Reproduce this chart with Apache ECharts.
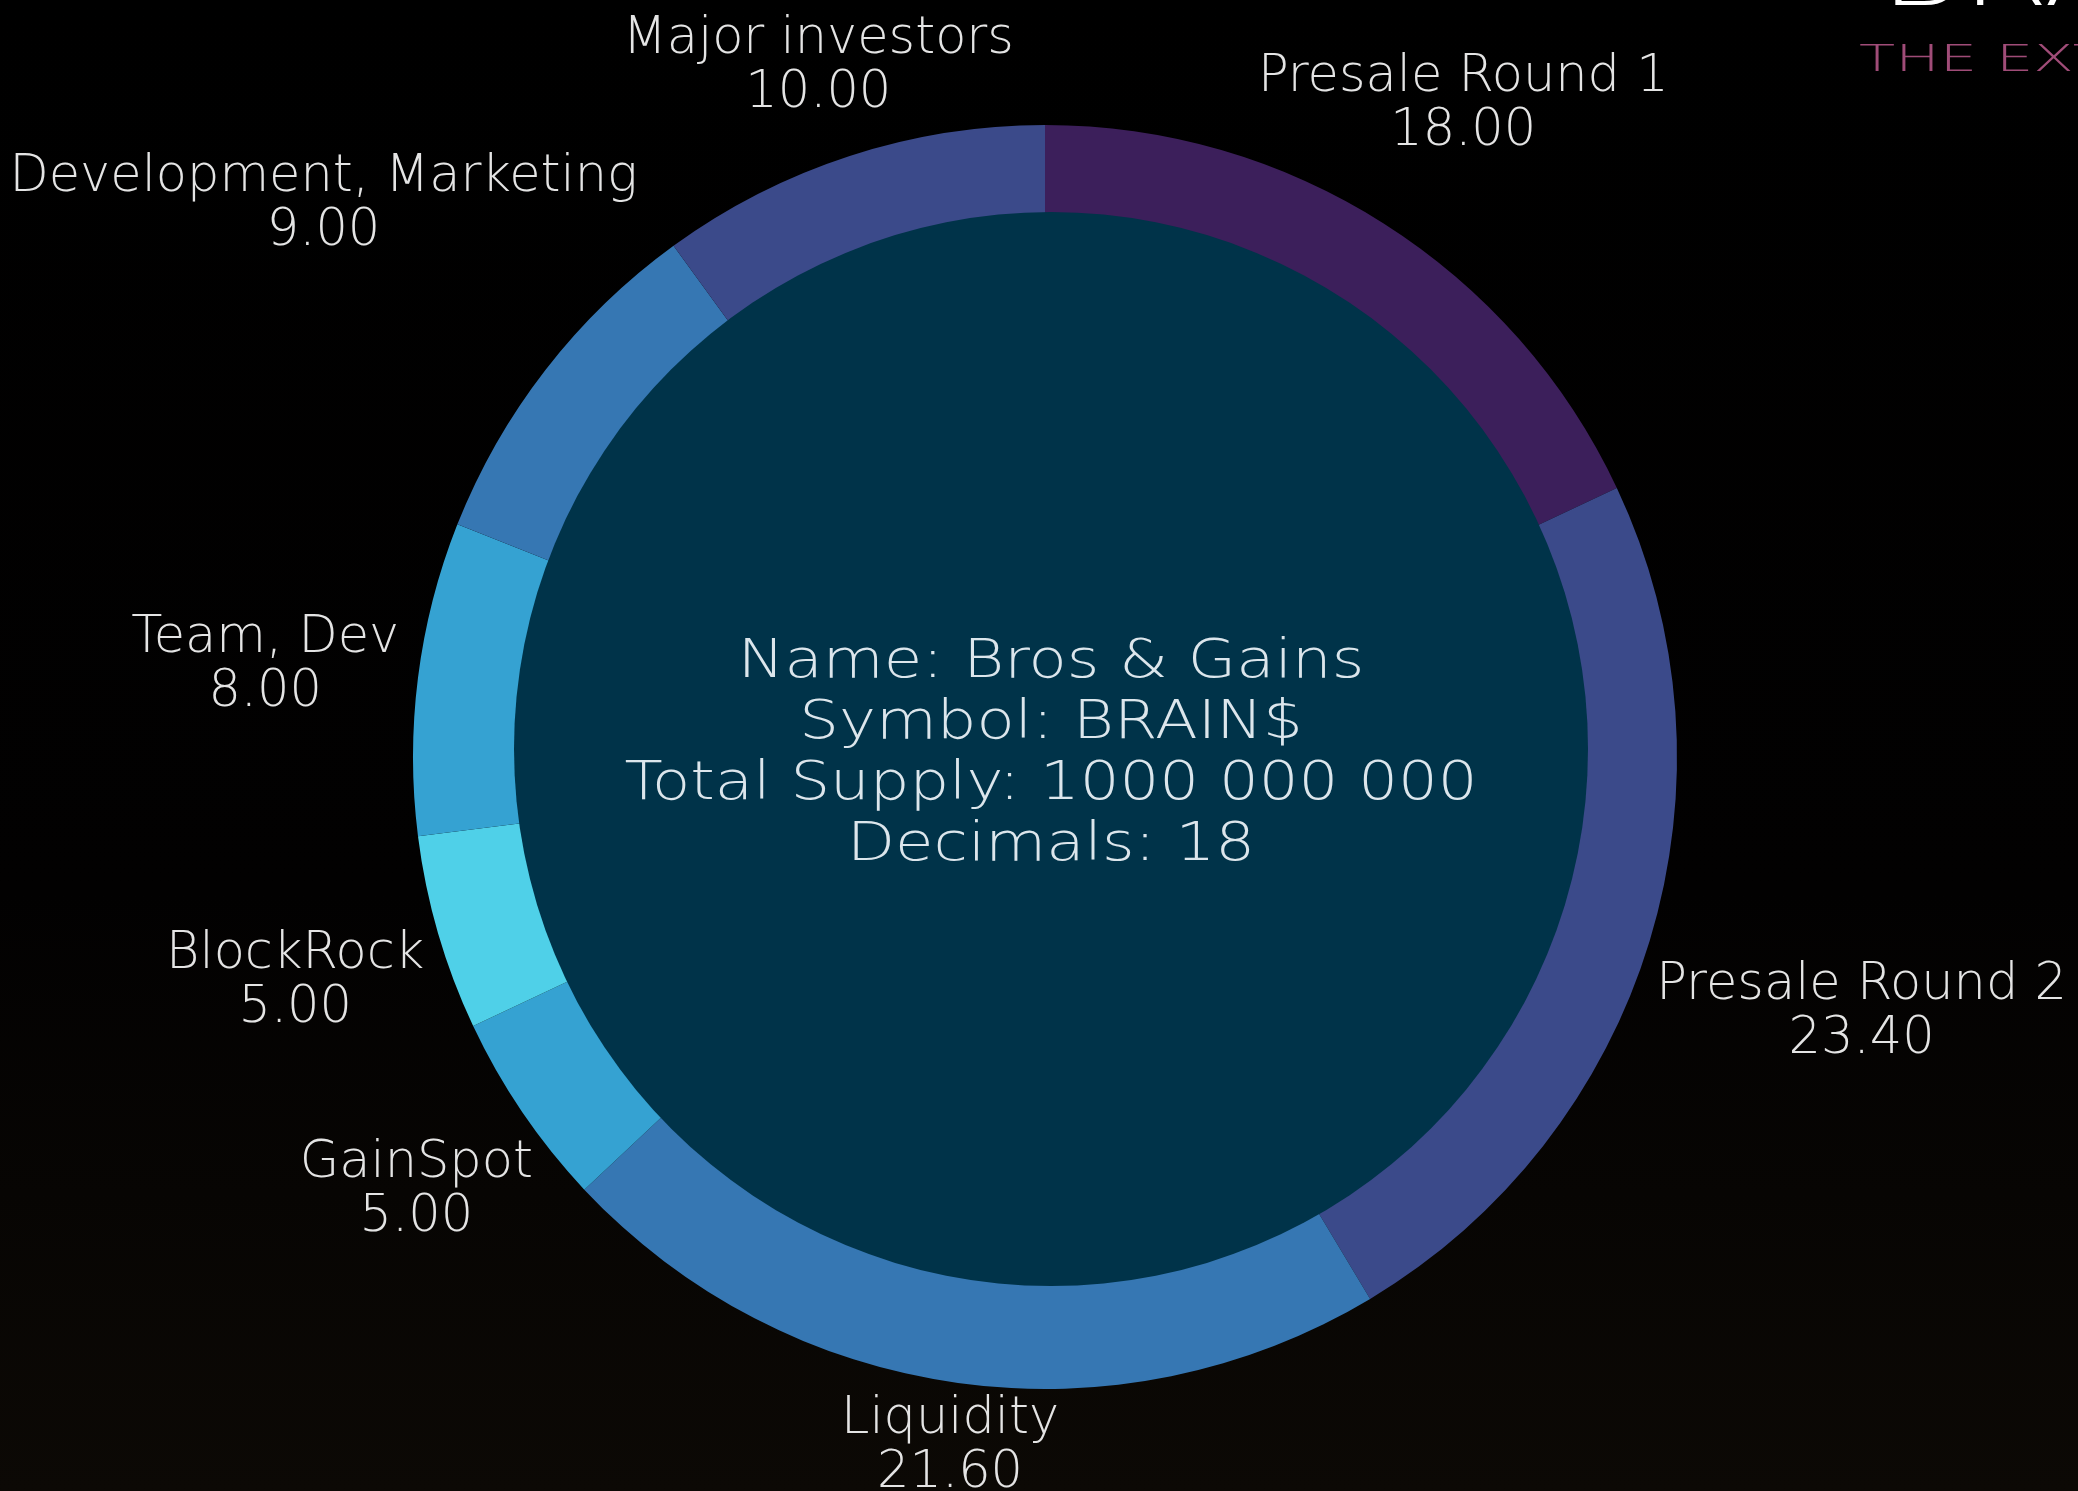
<!DOCTYPE html>
<html>
<head>
<meta charset="utf-8">
<title>Tokenomics</title>
<script src="https://cdn.jsdelivr.net/npm/echarts@6/dist/echarts.min.js"></script>
<style>
  html, body { margin: 0; padding: 0; background: #000; }
  #chart { width: 2078px; height: 1491px; }
</style>
</head>
<body>
<div id="chart"></div>
<script>
const categories = ['Presale Round 1', 'Presale Round 2', 'Liquidity', 'GainSpot', 'BlockRock', 'Team, Dev', 'Development, Marketing', 'Major investors'];
const shares = [18, 23.4, 21.6, 5, 5, 8, 9, 10];
const infoLines = ['Name: Bros & Gains', 'Symbol: BRAIN$', 'Total Supply: 1000 000 000', 'Decimals: 18'];

const palette = ['#3c1f5b', '#3b4a8a', '#3677b3', '#35a2d2', '#4fd0e8', '#35a2d2', '#3677b3', '#3b4a8a'];

// ring geometry (px); the inner disc sits a little off the ring centre
const CX = 1045;
const CY = 757;
const R_OUT = 632;
const DISC_X = 1051;
const DISC_Y = 749;
const DISC_R = 537;
const GAP = 18;
const LABEL_DROP = 7;

const total = shares.reduce((a, b) => a + b, 0);

// middle angle of a slice, clockwise from 12 o'clock
function midAngle(i) {
  let before = 0;
  for (let k = 0; k < i; k++) before += shares[k];
  return (before + shares[i] / 2) / total * Math.PI * 2;
}

const chart = echarts.init(document.getElementById('chart'));

const option = {
  backgroundColor: {
    type: 'linear', x: 0, y: 0, x2: 0, y2: 1,
    colorStops: [
      { offset: 0, color: '#000000' },
      { offset: 0.6, color: '#020101' },
      { offset: 1, color: '#0c0905' }
    ]
  },
  graphic: [
    {
      type: 'text',
      x: 1880,
      y: -21,
      scaleX: 1.25,
      style: {
        text: 'BRAIN$',
        font: '200 100px "DejaVu Sans"',
        fill: '#ffffff',
        verticalAlign: 'middle'
      }
    },
    {
      type: 'text',
      x: 1859,
      y: 61,
      scaleX: 1.6,
      style: {
        text: 'THE EXTREME',
        font: '200 37px "DejaVu Sans"',
        verticalAlign: 'middle',
        fill: '#a04c78'
      }
    },
    {
      type: 'text',
      x: DISC_X,
      y: DISC_Y + 6,
      scaleX: 1.18,
      z: 100,
      style: {
        text: infoLines.join('\n'),
        font: '200 53px "DejaVu Sans"',
        lineHeight: 61,
        fill: '#dce6ec',
        align: 'center',
        verticalAlign: 'middle'
      }
    }
  ],
  series: [
    {
      type: 'pie',
      center: [CX, CY],
      radius: [460, R_OUT],
      startAngle: 90,
      clockwise: true,
      silent: true,
      avoidLabelOverlap: false,
      z: 2,
      itemStyle: { borderWidth: 0 },
      label: {
        show: true,
        position: 'outside',
        overflow: 'none',
        formatter: p => p.name + '\n' + p.value.toFixed(2),
        color: '#e4e4e4',
        fontFamily: 'DejaVu Sans',
        fontWeight: 200,
        fontSize: 51,
        lineHeight: 54
      },
      labelLine: { show: false, length: 10, length2: 0 },
      labelLayout: function (params) {
        const a = midAngle(params.dataIndex);
        const ux = Math.sin(a);
        const uy = -Math.cos(a);
        const w = params.labelRect.width / 2;
        const h = params.labelRect.height / 2;
        const d = R_OUT + GAP + Math.abs(ux) * w + Math.abs(uy) * h * 0.45;
        return {
          x: CX + ux * d,
          y: CY + uy * d + LABEL_DROP,
          align: 'center',
          verticalAlign: 'middle'
        };
      },
      data: categories.map((name, i) => ({
        name: name,
        value: shares[i],
        itemStyle: { color: palette[i] }
      }))
    },
    {
      type: 'pie',
      center: [DISC_X, DISC_Y],
      radius: [0, DISC_R],
      silent: true,
      z: 3,
      itemStyle: { color: '#003349' },
      label: { show: false },
      labelLine: { show: false },
      data: [{ value: 1, name: 'info' }]
    }
  ]
};

chart.setOption(option);
</script>
</body>
</html>
